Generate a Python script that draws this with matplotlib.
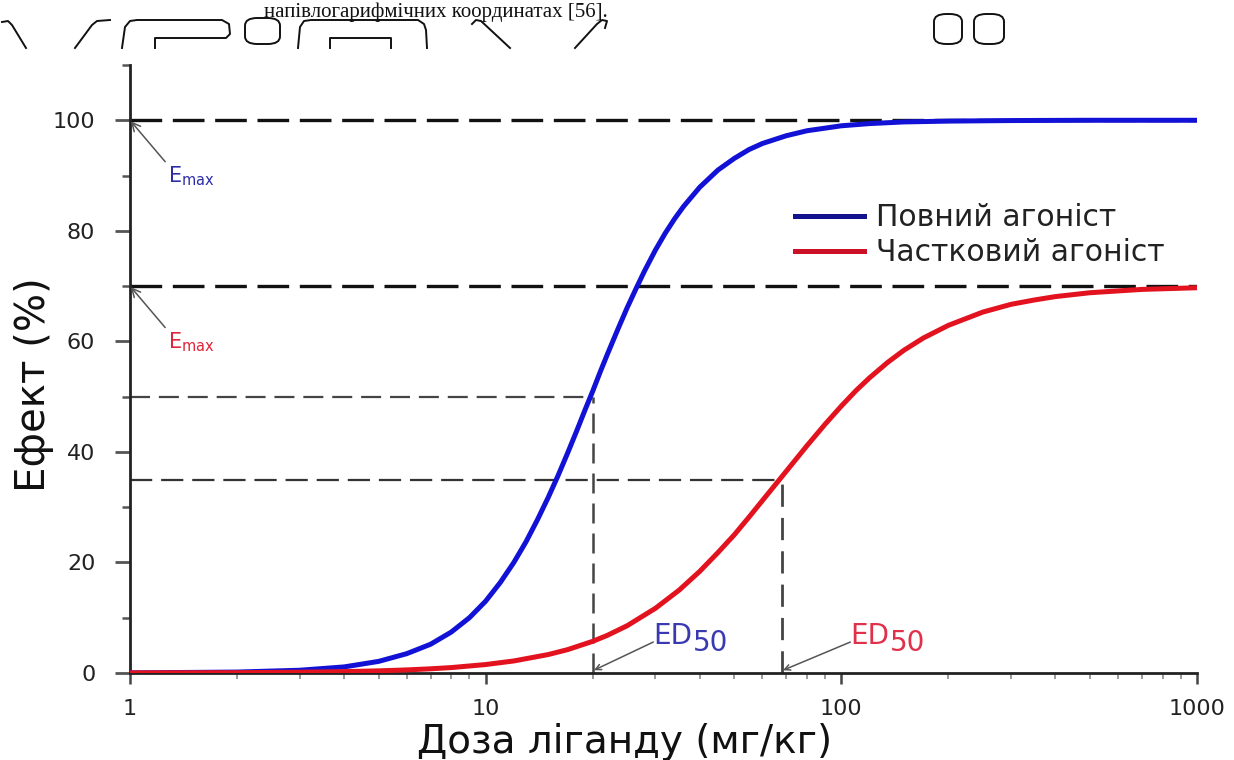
import matplotlib
matplotlib.use('Agg')
import matplotlib.pyplot as plt
from matplotlib.lines import Line2D
from matplotlib.patches import FancyBboxPatch
from matplotlib.ticker import FixedLocator, MultipleLocator, LogLocator, NullFormatter

plt.rcParams['font.family'] = ['DejaVu Sans']
plt.rcParams['mathtext.fontset'] = 'dejavusans'

# ---- data ----
blue_dose = [1, 2, 3, 4, 5, 6, 7, 8, 9, 10, 11, 12, 13, 14, 15, 16, 17, 18, 19, 20, 21, 22,
             23.5, 25, 26.5, 28, 30, 32, 34, 36, 40, 45, 50, 55, 60, 70, 80, 100, 120, 150,
             200, 300, 500, 1000]
blue_eff = [0.02, 0.17, 0.5, 1.1, 2.1, 3.5, 5.2, 7.4, 10.0, 13.0, 16.4, 20.0, 23.8, 27.8, 31.8,
            35.8, 39.8, 43.7, 47.5, 51.0, 54.5, 57.7, 62.1, 66.1, 69.6, 72.8, 76.5, 79.6, 82.2,
            84.4, 87.9, 91.0, 93.1, 94.7, 95.8, 97.2, 98.1, 99.0, 99.4, 99.7, 99.85, 99.95,
            100.0, 100.0]

red_dose = [1, 2, 3, 4, 5, 6, 7, 8, 10, 12, 15, 17, 20, 22, 25, 30, 35, 40, 45, 50, 55, 60,
            68, 70, 80, 90, 100, 110, 120, 135, 150, 170, 200, 250, 300, 350, 400, 500, 700, 1000]
red_eff = [0.02, 0.06, 0.14, 0.25, 0.39, 0.56, 0.76, 0.98, 1.53, 2.18, 3.34, 4.23, 5.73, 6.82,
           8.56, 11.7, 15.0, 18.4, 21.8, 25.0, 28.2, 31.2, 35.5, 36.5, 41.1, 45.0, 48.3, 51.1,
           53.4, 56.2, 58.4, 60.6, 62.9, 65.3, 66.7, 67.5, 68.1, 68.8, 69.4, 69.7]

series_labels = ['Повний агоніст', 'Частковий агоніст']
emax_full, emax_partial = 100, 70
ed50_full, ed50_partial = 20, 68
half_full, half_partial = 50, 35
x_ticks = [1, 10, 100, 1000]
x_ticklabels = ['1', '10', '100', '1000']
y_ticks = [0, 20, 40, 60, 80, 100]

W, H = 1234, 760
fig = plt.figure(figsize=(W / 100, H / 100), dpi=100)
fig.patch.set_facecolor('white')

# ---- scanned caption line and shapes at top ----
fig.text(608 / W, 1 - 17 / H, 'напівлогарифмічних координатах [56].', ha='right',
         va='baseline', fontsize=15, family='Liberation Serif', color='#111')

shapes = [
    [(2, 22), (8, 21), (12, 25), (26, 48)],
    [(75, 48), (92, 25), (97, 21), (110, 20)],
    [(122, 48), (125, 27), (130, 21), (137, 20), (222, 20), (229, 24), (230, 34), (226, 38),
     (155, 38), (155, 48)],
    [(298, 48), (300, 27), (304, 21), (311, 20), (418, 20), (424, 24), (426, 30), (427, 48)],
    [(330, 48), (330, 38), (391, 38), (391, 48)],
    [(472, 24), (476, 20), (481, 21), (510, 48)],
    [(575, 48), (597, 24), (602, 20), (607, 21), (605, 28)],
]
for s in shapes:
    xs = [p[0] / W for p in s]
    ys = [1 - p[1] / H for p in s]
    fig.add_artist(Line2D(xs, ys, color='#111', lw=1.4, transform=fig.transFigure))
for (x0, y0, x1, y1) in [(245, 18, 280, 44), (934, 14, 962, 44), (974, 14, 1004, 44)]:
    fig.add_artist(FancyBboxPatch((x0 / W, 1 - y1 / H), (x1 - x0) / W, (y1 - y0) / H,
                                  boxstyle='round,pad=0,rounding_size=0.01',
                                  transform=fig.transFigure, fc='none', ec='#111', lw=1.4))

# ---- main axes ----
ax = fig.add_axes([130 / W, 87 / H, (1197 - 130) / W, (673 - 65) / H])
ax.set_xscale('log')
ax.set_xlim(1, 1000)
ax.set_ylim(0, 110)

# reference lines
ax.plot([1, 1000], [emax_full, emax_full], color='#111', lw=2.4, dashes=(9.5, 3.2), zorder=2)
ax.plot([1, 1000], [emax_partial, emax_partial], color='#111', lw=2.4, dashes=(9.5, 3.2), zorder=2)
ax.plot([1, ed50_full], [half_full, half_full], color='#444', lw=1.6, dashes=(9, 4), zorder=2)
ax.plot([1, ed50_partial], [half_partial, half_partial], color='#333', lw=1.6, dashes=(10, 4), zorder=2)
ax.plot([ed50_full, ed50_full], [0, half_full], color='#444', lw=1.8, dashes=(8, 4), zorder=2)
ax.plot([ed50_partial, ed50_partial], [0, half_partial], color='#444', lw=2.0, dashes=(8, 4), zorder=2)

# curves
ax.plot(blue_dose, blue_eff, color='#1212d6', lw=3.6, solid_joinstyle='round', zorder=3)
ax.plot(red_dose, red_eff, color='#e3121f', lw=3.6, solid_joinstyle='round', zorder=4)

# spines & ticks
for side in ['top', 'right']:
    ax.spines[side].set_visible(False)
for side in ['left', 'bottom']:
    ax.spines[side].set_linewidth(2)
    ax.spines[side].set_color('#222')

ax.xaxis.set_major_locator(FixedLocator(x_ticks))
ax.set_xticklabels(x_ticklabels)
ax.xaxis.set_minor_locator(LogLocator(base=10, subs=range(2, 10)))
ax.xaxis.set_minor_formatter(NullFormatter())
ax.yaxis.set_major_locator(FixedLocator(y_ticks))
ax.yaxis.set_minor_locator(MultipleLocator(10))

ax.tick_params(axis='x', which='major', length=8, width=1.8, color='#444', labelsize=16,
               pad=11, labelcolor='#222')
ax.tick_params(axis='x', which='minor', length=4, width=1.2, color='#888')
ax.tick_params(axis='y', which='major', length=11, width=2, color='#555', labelsize=16,
               pad=14, labelcolor='#222')
ax.tick_params(axis='y', which='minor', length=6, width=1.8, color='#555')

# axis labels
fig.text(34 / W, 1 - 385 / H, 'Ефект (%)', rotation=90, fontsize=29, ha='center',
         va='center', color='#111')
fig.text(625 / W, 1 - 753 / H, 'Доза ліганду (мг/кг)', fontsize=28, ha='center',
         va='baseline', color='#111')

# annotations
arrow = dict(arrowstyle='->', color='#555', lw=1.1, shrinkA=0, shrinkB=1, relpos=(0, 1))
ax.annotate(r'E$_{\mathregular{max}}$', xy=(1, emax_full), xytext=(1.275, 92.0),
            color='#2d2da8', fontsize=15, ha='left', va='top', arrowprops=arrow)
ax.annotate(r'E$_{\mathregular{max}}$', xy=(1, emax_partial), xytext=(1.275, 62.0),
            color='#e0243c', fontsize=15, ha='left', va='top', arrowprops=arrow)

arrow2 = dict(arrowstyle='->', color='#555', lw=1.1, shrinkA=0, shrinkB=1)
for x_txt, x_ed, col in [(29.6, ed50_full, '#3a3ab0'), (106, ed50_partial, '#e0304a')]:
    t = ax.text(x_txt, 5.3, 'ED', color=col, fontsize=20, ha='left', va='baseline')
    ax.annotate('50', xy=(1, 0), xycoords=t, xytext=(0.5, -5), textcoords='offset points',
                color=col, fontsize=20, ha='left', va='bottom')
    ax.annotate('', xy=(x_ed, 0.4), xytext=(x_txt, 5.6), arrowprops=arrow2)

# legend
handles = [Line2D([], [], color='#12128c', lw=3.6), Line2D([], [], color='#cc1028', lw=3.6)]
ax.legend(handles, series_labels, loc='upper left', bbox_to_anchor=(795 / W, 1 - 203 / H),
          bbox_transform=fig.transFigure, frameon=False, fontsize=21.5, borderpad=0,
          borderaxespad=0, handlelength=2.3, handletextpad=0.4, labelspacing=0.2,
          labelcolor='#222')

fig.savefig('out.png', dpi=100, facecolor='white')
